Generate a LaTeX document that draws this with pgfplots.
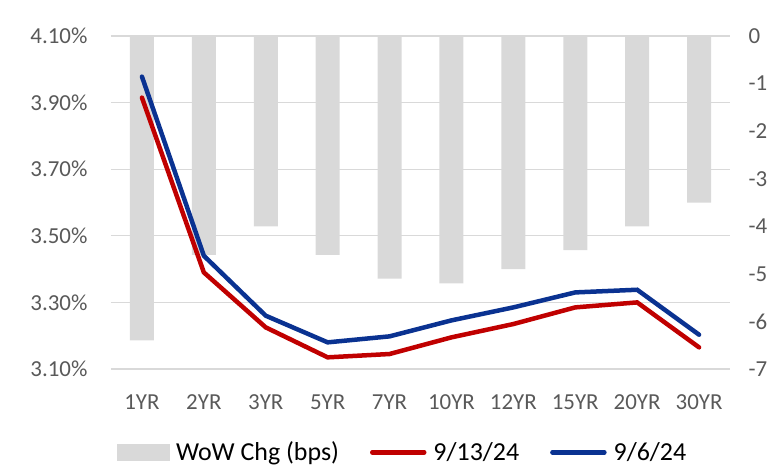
\documentclass[border=0pt]{standalone}
\usepackage{pgfplots}
\pgfplotsset{compat=1.18}
\usepackage{fontspec}
\setmainfont{Carlito}
\definecolor{barfill}{HTML}{D9D9D9}
\definecolor{gridc}{HTML}{D9D9D9}
\definecolor{redl}{HTML}{C00000}
\definecolor{bluel}{HTML}{0A3291}
\definecolor{tickc}{HTML}{595959}

\pgfplotsset{
  curve axis/.style={
    width=619bp, height=333bp, scale only axis,
    xmin=-0.5, xmax=9.5,
    axis line style={draw=none},
    major tick length=0pt,
    tick label style={font=\fontsize{23}{26}\selectfont, text=tickc},
  },
}

\begin{document}
\begin{tikzpicture}
\useasboundingbox (-111bp,-97bp) rectangle (660bp,369bp);

% bars: WoW change, right axis
\begin{axis}[curve axis,
    ymin=-7, ymax=0,
    ytick={-7,-6,-5,-4,-3,-2,-1,0},
    yticklabels={-7,-6,-5,-4,-3,-2,-1,0},
    yticklabel pos=right,
    yticklabel style={anchor=west, xshift=15bp},
    xtick=\empty,
    ybar, bar width=24bp]
\addplot[fill=barfill, draw=none] coordinates {
  (0,-6.4) (1,-4.6) (2,-4.0) (3,-4.6) (4,-5.1)
  (5,-5.2) (6,-4.9) (7,-4.5) (8,-4.0) (9,-3.5)};
\end{axis}

% yield curves, left axis
\begin{axis}[curve axis,
    ymin=3.1, ymax=4.1,
    ytick={3.1,3.3,3.5,3.7,3.9,4.1},
    yticklabels={3.10\%,3.30\%,3.50\%,3.70\%,3.90\%,4.10\%},
    yticklabel style={anchor=east, xshift=-20bp},
    ymajorgrids, grid style={gridc, line width=1.3bp},
    xtick={0,...,9},
    xticklabels={1YR,2YR,3YR,5YR,7YR,10YR,12YR,15YR,20YR,30YR},
    xticklabel style={yshift=-22bp},
    legend columns=3,
    legend style={at={(0.470,-0.250)}, anchor=center, draw=none,
      font=\fontsize{26}{30}\selectfont,
      nodes={inner sep=1bp},
      /tikz/every odd column/.append style={column sep=6bp},
      /tikz/every even column/.append style={column sep=30bp}},
    ]
\addlegendimage{legend image code/.code={\fill[barfill] (0bp,-8bp) rectangle (52bp,8bp);}}
\addlegendentry{WoW Chg (bps)}
\addplot[redl, line width=4.5bp, line cap=round,
  legend image code/.code={\draw[redl, line width=4.5bp, line cap=round] (0bp,0bp) -- (52bp,0bp);}]
  coordinates {
  (0,3.915) (1,3.39) (2,3.225) (3,3.135) (4,3.145)
  (5,3.195) (6,3.235) (7,3.285) (8,3.30) (9,3.165)};
\addlegendentry{9/13/24}
\addplot[bluel, line width=4.5bp, line cap=round,
  legend image code/.code={\draw[bluel, line width=4.5bp, line cap=round] (0bp,0bp) -- (52bp,0bp);}]
  coordinates {
  (0,3.978) (1,3.44) (2,3.26) (3,3.18) (4,3.198)
  (5,3.246) (6,3.285) (7,3.33) (8,3.338) (9,3.203)};
\addlegendentry{9/6/24}
\end{axis}
\end{tikzpicture}
\end{document}
